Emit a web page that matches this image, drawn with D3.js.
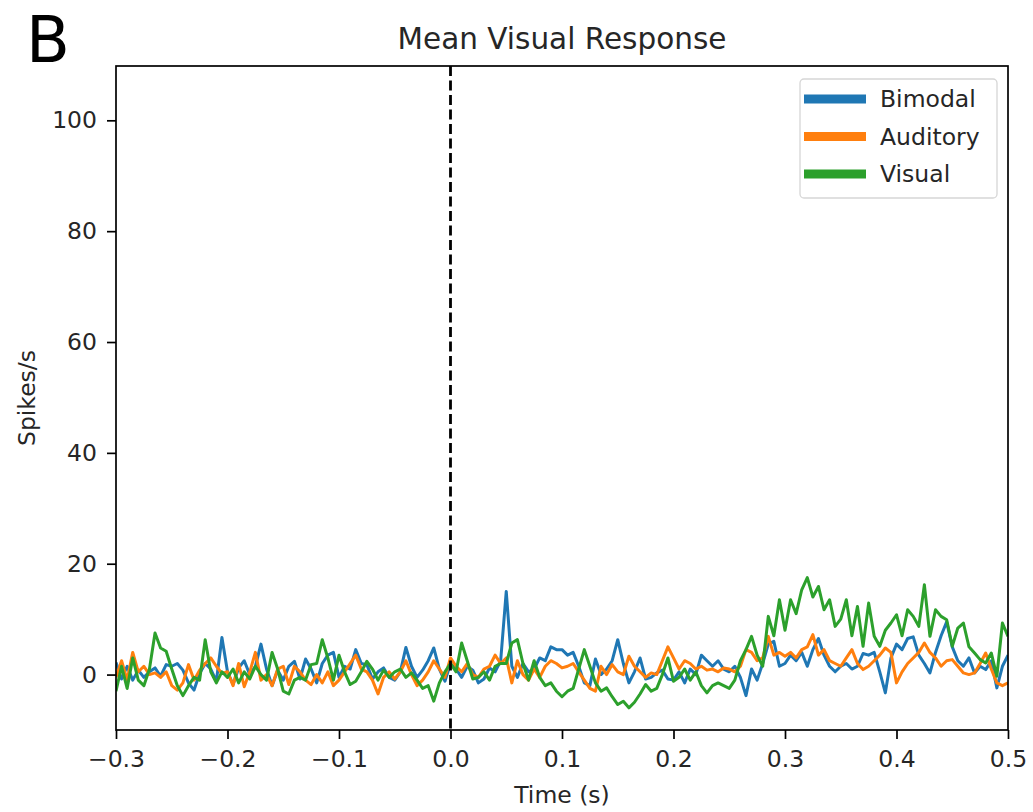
<!DOCTYPE html>
<html>
<head>
<meta charset="utf-8">
<script src="https://cdn.jsdelivr.net/npm/d3@7"></script>
<style>
  html, body { margin: 0; padding: 0; background: #fff; }
  svg { display: block; }
  text { font-family: "DejaVu Sans", sans-serif; fill: #262626; }
</style>
</head>
<body>
<svg id="chart" width="1033" height="812"></svg>
<script>
// Peri-stimulus firing rate, 5 ms bins from -0.3 s to 0.5 s
const binStart = -0.3;
const binWidth = 0.005;

const bimodal = [
  2.2, -0.8, 1.5, -1.0, 0.8, -0.5, 0.5, 1.2, -0.3, 1.8,
  1.5, 2.0, 0.8, -1.5, -2.8, 0.2, 2.0, 1.0, -1.2, 6.7,
  0.5, -1.8, 1.2, 2.5, 0.0, 1.5, 5.5, 1.0, -2.0, 0.8,
  -1.0, 1.5, 2.4, -0.8, 2.8, 1.0, -1.5, 2.0, 3.5, 4.0,
  -0.5, 1.5, 1.0, 4.5, 2.0, 1.8, -0.8, 0.5, 1.2, -0.5,
  -1.0, 0.5, 4.9, 1.5, -0.5, 0.8, 2.5, 4.8, 1.0, -1.2,
  2.0, 1.0, -0.5, 1.5, 0.8, -1.5, -0.8, 1.2, 0.5, 2.5,
  15.0, 1.5, -0.5, 2.0, 0.5, 1.0, 3.0, 2.5, 5.0, 4.5,
  4.5, 3.5, 4.0, 1.5, -1.5, -2.0, 2.8, 0.0, 1.0, 2.5,
  6.3, 2.0, -1.5, 0.5, 3.0, -0.8, -0.5, 0.3, 0.8, -0.8,
  -1.0, 0.5, -1.5, 1.0, 0.0, 3.5, 2.5, 1.5, 2.5, 1.0,
  0.5, 1.5, -0.5, -3.8, 1.0, -1.0, 2.0, 5.5, 6.0, 1.5,
  2.0, 3.5, 2.5, 4.0, 1.5, 4.5, 6.5, 3.5, 1.5, 0.5,
  1.5, 2.0, 1.0, 1.5, 3.8, 3.5, 4.0, 0.5, -3.3, 3.0,
  5.5, 4.5, 6.5, 6.8, 3.5, 2.0, 0.3, 4.0, 7.0, 9.5,
  5.0, 2.5, 1.5, 3.0, 0.3, 1.5, 0.9, 2.5, -2.4, 1.5,
  3.5
];

const auditory = [
  -0.5, 2.5, -1.0, 4.0, 0.5, 1.5, 0.0, 0.3, -0.5, 0.5,
  -2.0, -2.8, -1.5, 1.8, -1.0, 0.8, 2.0, 3.0, 1.5, 0.2,
  0.5, -2.0, 2.0, -2.2, 0.5, 4.0, -1.0, 0.0, -2.0, 1.0,
  1.5, -1.8, 1.5, 0.5, -1.0, -1.8, 0.0, -1.5, 0.5, -2.0,
  -1.0, 0.5, 2.0, 3.5, 1.0, 0.5, -1.0, -3.5, -0.5, 0.5,
  -0.8, 0.5, 2.5, 0.0, -2.0, -1.0, 0.5, 2.5, 1.0, -0.5,
  3.0, 1.5, 0.5, 2.0, 0.0, -0.5, 1.0, 1.5, 3.5, 2.0,
  3.0, -1.5, 2.5, 0.0, -1.0, 1.0, -0.5, 1.5, 2.5, 2.0,
  1.2, 1.5, 2.0, 0.5, -1.0, -2.5, -3.0, 1.5, 0.0, 1.8,
  0.5, 0.0, 3.3, 1.5, 0.5, -0.5, 0.3, 0.0, 2.5, 5.0,
  3.0, 1.0, 2.5, 2.0, 1.0, 1.5, 0.8, 1.0, 0.5, 1.2,
  1.0, 0.5, 1.5, 4.5, 4.0, 2.5, 3.0, 6.9, 3.5, 4.0,
  3.3, 4.0, 3.0, 4.5, 5.0, 7.2, 3.5, 4.5, 2.5, 2.0,
  1.5, 3.0, 4.5, 2.0, 0.9, 1.5, 2.5, 3.5, 4.8, 4.0,
  -1.5, 0.5, 2.0, 3.0, 4.0, 5.7, 4.0, 3.0, 1.5, 2.5,
  2.7, 1.5, 0.3, 0.0, 0.3, 2.0, 3.9, 1.0, -1.5, -2.0,
  -1.5
];

const visual = [
  -3.0, 1.5, -2.5, 3.0, -1.0, -2.0, 1.0, 7.5, 4.8, 4.2,
  1.0, -2.0, -3.8, -2.0, -0.5, -1.0, 6.3, 0.5, -1.5, 0.5,
  -0.5, 1.0, -1.5, 0.5, -0.8, 1.5, 0.0, -1.0, 4.0, 1.0,
  -3.0, -3.5, -1.0, -0.5, -1.0, 1.8, 2.0, 6.3, 3.0, -1.0,
  3.5, 0.5, -1.8, -1.2, 0.5, 2.4, 1.0, -1.0, 0.8, -0.5,
  0.5, 1.0, -0.5, 0.3, -1.0, -2.5, -2.0, -4.8, -1.5, 0.5,
  2.0, 0.5, 5.7, 2.5, -0.8, -0.5, 0.5, -1.0, 1.5, 2.0,
  2.0, 5.7, 6.3, 2.0, -1.0, 2.5, -0.5, -2.0, -1.5, -3.0,
  -4.0, -3.0, -2.5, 1.0, 4.5, 1.5, -1.5, -3.0, -2.4, -4.0,
  -5.4, -4.8, -6.0, -5.0, -3.5, -1.8, -3.0, -2.5, 0.0, 3.0,
  -1.2, -0.5, 1.0, -1.0, 0.5, -2.0, -3.3, -2.0, -1.5, -2.0,
  -2.5, -1.0, 2.5, 4.5, 6.9, 3.5, 1.5, 10.5, 7.0, 13.5,
  8.0, 13.5, 11.0, 15.3, 17.5, 14.0, 15.9, 11.7, 13.5, 8.7,
  10.0, 13.5, 7.0, 12.3, 5.1, 12.9, 6.9, 5.1, 8.0, 9.3,
  10.8, 7.0, 11.7, 10.5, 8.7, 16.2, 6.9, 11.7, 10.5, 9.9,
  5.1, 8.4, 9.3, 5.0, 3.9, 2.7, 2.1, 3.9, -0.3, 9.3,
  6.9
];

const seriesNames = ["Bimodal", "Auditory", "Visual"];
const seriesColors = ["#1f77b4", "#ff7f0e", "#2ca02c"];
const seriesValues = [bimodal, auditory, visual];

const xTicks = [-0.3, -0.2, -0.1, 0.0, 0.1, 0.2, 0.3, 0.4, 0.5];
const yTicks = [0, 20, 40, 60, 80, 100];
const stimulusOnset = 0.0;

const titleText = "Mean Visual Response";
const xLabel = "Time (s)";
const yLabel = "Spikes/s";
const panelLetter = "B";

// ---- layout ----
const plot = { left: 116, right: 1008, top: 66, bottom: 730 };
const fontSize = 23.5;
const svg = d3.select("#chart");

const x = d3.scaleLinear().domain([-0.3, 0.5]).range([plot.left, plot.right]);
const y = d3.scaleLinear().domain([-10, 109.8]).range([plot.bottom, plot.top]);

svg.append("defs").append("clipPath").attr("id", "plot-clip")
  .append("rect")
  .attr("x", plot.left).attr("y", plot.top)
  .attr("width", plot.right - plot.left).attr("height", plot.bottom - plot.top);

// data lines
const line = d3.line()
  .x((d, i) => x(binStart + i * binWidth))
  .y(d => y(d));

const lines = svg.append("g").attr("clip-path", "url(#plot-clip)");
seriesValues.forEach((vals, k) => {
  lines.append("path")
    .datum(vals)
    .attr("fill", "none")
    .attr("stroke", seriesColors[k])
    .attr("stroke-width", 3)
    .attr("stroke-linejoin", "round")
    .attr("d", line);
});

// stimulus onset marker
svg.append("line")
  .attr("x1", x(stimulusOnset)).attr("x2", x(stimulusOnset))
  .attr("y1", plot.top).attr("y2", plot.bottom)
  .attr("stroke", "#000").attr("stroke-width", 2.8)
  .attr("stroke-dasharray", "10,4.5");

// axes
const xAxis = d3.axisBottom(x).tickValues(xTicks)
  .tickFormat(d => d3.format(".1f")(d).replace("-", "\u2212"))
  .tickSizeOuter(0).tickSizeInner(9).tickPadding(11);
const yAxis = d3.axisLeft(y).tickValues(yTicks)
  .tickFormat(d3.format("d"))
  .tickSizeOuter(0).tickSizeInner(9).tickPadding(10);

const gx = svg.append("g").attr("transform", `translate(0,${plot.bottom})`).call(xAxis);
const gy = svg.append("g").attr("transform", `translate(${plot.left},0)`).call(yAxis);
[gx, gy].forEach(g => {
  g.select(".domain").remove();
  g.selectAll(".tick line").attr("stroke", "#000").attr("stroke-width", 1.7);
  g.selectAll(".tick text")
    .attr("font-family", "DejaVu Sans, sans-serif")
    .attr("font-size", fontSize).attr("fill", "#262626");
});

// frame
svg.append("rect")
  .attr("x", plot.left).attr("y", plot.top)
  .attr("width", plot.right - plot.left).attr("height", plot.bottom - plot.top)
  .attr("fill", "none").attr("stroke", "#000").attr("stroke-width", 1.7);

// titles
svg.append("text")
  .attr("x", (plot.left + plot.right) / 2).attr("y", 49)
  .attr("text-anchor", "middle").attr("font-size", 29.5)
  .text(titleText);

svg.append("text")
  .attr("x", (plot.left + plot.right) / 2).attr("y", 803)
  .attr("text-anchor", "middle").attr("font-size", fontSize)
  .text(xLabel);

svg.append("text")
  .attr("transform", `translate(35,${(plot.top + plot.bottom) / 2}) rotate(-90)`)
  .attr("text-anchor", "middle").attr("font-size", fontSize)
  .text(yLabel);

svg.append("text")
  .attr("x", 26).attr("y", 62)
  .attr("font-family", "Liberation Sans, Arial, sans-serif")
  .attr("font-size", 64).style("fill", "#000")
  .text(panelLetter);

// legend
const legend = svg.append("g").attr("transform", "translate(800,79)");
legend.append("rect")
  .attr("width", 197).attr("height", 119).attr("rx", 4)
  .attr("fill", "#fff").attr("fill-opacity", 0.8)
  .attr("stroke", "#d6d6d6").attr("stroke-width", 1.3);
seriesNames.forEach((name, k) => {
  const cy = 20 + k * 37.5;
  legend.append("line")
    .attr("x1", 4).attr("x2", 66).attr("y1", cy).attr("y2", cy)
    .attr("stroke", seriesColors[k]).attr("stroke-width", 9);
  legend.append("text")
    .attr("x", 80).attr("y", cy).attr("dy", "0.36em")
    .attr("font-size", fontSize)
    .text(name);
});
</script>
</body>
</html>
